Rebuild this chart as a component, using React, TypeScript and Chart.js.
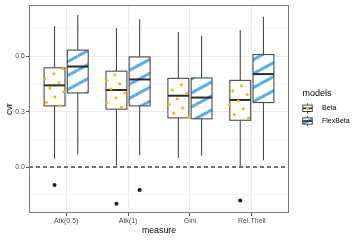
import React, { useEffect, useRef } from 'react';
import { Chart, registerables } from 'chart.js';

Chart.register(...registerables);

// ---------- data ----------
const categories = ['Atk(0.5)', 'Atk(1)', 'Gini', 'Rel.Theil'];
const models = ['Beta', 'FlexBeta'];

const betaLow = [0.045, 0.009, 0.049, 0.007];
const betaQ1 = [0.331, 0.313, 0.266, 0.253];
const betaMed = [0.442, 0.417, 0.386, 0.363];
const betaQ3 = [0.537, 0.519, 0.48, 0.469];
const betaHigh = [0.763, 0.753, 0.731, 0.742];

const flexLow = [0.068, 0.063, 0.061, 0.036];
const flexQ1 = [0.401, 0.331, 0.261, 0.349];
const flexMed = [0.544, 0.474, 0.376, 0.503];
const flexQ3 = [0.633, 0.596, 0.482, 0.609];
const flexHigh = [0.823, 0.8, 0.711, 0.814];

const betaOutlierCat = [0, 1, 3];
const betaOutlierVal = [-0.097, -0.199, -0.181];
const flexOutlierCat = [1];
const flexOutlierVal = [-0.124];

// jittered raw points (Beta only): category index, value, horizontal jitter
const jitterCat = [
  0, 0, 0, 0, 0, 0, 0, 0, 0,
  1, 1, 1, 1, 1, 1, 1, 1,
  2, 2, 2, 2, 2, 2, 2, 2,
  3, 3, 3, 3, 3, 3, 3, 3,
];
const jitterVal = [
  0.533, 0.505, 0.476, 0.456, 0.428, 0.408, 0.379, 0.35, 0.332,
  0.499, 0.47, 0.451, 0.422, 0.401, 0.373, 0.346, 0.324,
  0.446, 0.417, 0.399, 0.369, 0.339, 0.32, 0.291, 0.273,
  0.44, 0.412, 0.392, 0.359, 0.334, 0.315, 0.284, 0.264,
];
const jitterOff = [
  0.134, -0.011, -0.157, 0.069, -0.076, 0.15, 0.005, -0.134, 0.092,
  -0.023, -0.162, 0.053, -0.087, 0.139, -0.006, -0.152, 0.081,
  0.047, -0.099, 0.134, -0.018, -0.152, 0.069, -0.076, 0.16,
  0.021, -0.12, 0.113, -0.032, -0.173, 0.048, -0.097, 0.134,
];

const yMajorTicks = [0, 0.3, 0.6];
const yMinorTicks = [-0.15, 0.15, 0.45, 0.75];
const yRange = [-0.249, 0.876];
const xRange = [0.4, 4.6];
const hlineValue = 0;

// ---------- style ----------
const FONT = "'Liberation Sans', Arial, Helvetica, sans-serif";
const DODGE = 0.1875;
const HALF_W = 0.16875;
const STRIPE = '#58aeea';
const DOT = '#ffb000';
const LINE = '#4a4a4a';

function makePattern(): CanvasPattern | string {
  const W = 26, H = 14;
  const c = document.createElement('canvas');
  c.width = W; c.height = H;
  const g = c.getContext('2d');
  if (!g) return '#ffffff';
  g.fillStyle = '#ffffff';
  g.fillRect(0, 0, W, H);
  g.strokeStyle = STRIPE;
  g.lineWidth = 3;
  const shifts = [[0, 0], [-W, 0], [W, 0], [0, -H], [0, H]];
  for (const [dx, dy] of shifts) {
    g.beginPath();
    g.moveTo(0 + dx, H + dy);
    g.lineTo(W + dx, 0 + dy);
    g.stroke();
  }
  const p = g.createPattern(c, 'repeat');
  return p || '#ffffff';
}

export default function App() {
  const ref = useRef<HTMLCanvasElement | null>(null);

  useEffect(() => {
    document.body.style.margin = '0';
    const canvas = ref.current;
    if (!canvas) return;
    const pattern = makePattern();

    const series = [
      { low: betaLow, q1: betaQ1, med: betaMed, q3: betaQ3, high: betaHigh, off: -DODGE, fill: '#ffffff' as any },
      { low: flexLow, q1: flexQ1, med: flexMed, q3: flexQ3, high: flexHigh, off: DODGE, fill: pattern as any },
    ];

    const boxPlugin = {
      id: 'boxes',
      beforeDatasetsDraw(chart: any) {
        const { ctx, scales } = chart;
        const x = scales.x, y = scales.y;
        ctx.save();
        for (const s of series) {
          for (let i = 0; i < categories.length; i++) {
            const c = i + 1 + s.off;
            const px = x.getPixelForValue(c);
            const l = x.getPixelForValue(c - HALF_W);
            const r = x.getPixelForValue(c + HALF_W);
            const yl = y.getPixelForValue(s.low[i]);
            const y1 = y.getPixelForValue(s.q1[i]);
            const ym = y.getPixelForValue(s.med[i]);
            const y3 = y.getPixelForValue(s.q3[i]);
            const yh = y.getPixelForValue(s.high[i]);
            ctx.strokeStyle = LINE;
            ctx.lineWidth = 1.1;
            ctx.beginPath();
            ctx.moveTo(px, yl); ctx.lineTo(px, y1);
            ctx.moveTo(px, y3); ctx.lineTo(px, yh);
            ctx.stroke();
            ctx.fillStyle = s.fill;
            ctx.fillRect(l, y3, r - l, y1 - y3);
            ctx.strokeRect(l, y3, r - l, y1 - y3);
            ctx.strokeStyle = '#2b2b2b';
            ctx.lineWidth = 2;
            ctx.beginPath();
            ctx.moveTo(l, ym); ctx.lineTo(r, ym);
            ctx.stroke();
          }
        }
        ctx.restore();
      },
      afterDatasetsDraw(chart: any) {
        const { ctx, scales, chartArea } = chart;
        const yy = scales.y.getPixelForValue(hlineValue);
        ctx.save();
        ctx.strokeStyle = '#444444';
        ctx.lineWidth = 1.4;
        ctx.setLineDash([4, 3]);
        ctx.beginPath();
        ctx.moveTo(chartArea.left, yy);
        ctx.lineTo(chartArea.right, yy);
        ctx.stroke();
        ctx.restore();
      },
      afterDraw(chart: any) {
        const { ctx, chartArea } = chart;
        ctx.save();
        // panel border
        ctx.strokeStyle = '#7a7a7a';
        ctx.lineWidth = 1;
        ctx.strokeRect(
          Math.round(chartArea.left) + 0.5,
          Math.round(chartArea.top) + 0.5,
          Math.round(chartArea.right - chartArea.left) - 1,
          Math.round(chartArea.bottom - chartArea.top) - 1
        );
        // legend
        ctx.fillStyle = '#000000';
        ctx.font = `9px ${FONT}`;
        ctx.textBaseline = 'middle';
        ctx.textAlign = 'left';
        ctx.fillText('models', 302.5, 94);
        const keyY = [108.3, 121];
        const kx = 307.5;
        const hw = 4.75, hh = 3.2;
        for (let k = 0; k < models.length; k++) {
          const cy = keyY[k];
          ctx.strokeStyle = LINE;
          ctx.lineWidth = 1;
          ctx.beginPath();
          ctx.moveTo(kx, cy - 5); ctx.lineTo(kx, cy - hh);
          ctx.moveTo(kx, cy + hh); ctx.lineTo(kx, cy + 5);
          ctx.stroke();
          ctx.fillStyle = '#ffffff';
          ctx.fillRect(kx - hw, cy - hh, hw * 2, hh * 2);
          if (k === 1) {
            ctx.save();
            ctx.beginPath();
            ctx.rect(kx - hw, cy - hh, hw * 2, hh * 2);
            ctx.clip();
            ctx.strokeStyle = STRIPE;
            ctx.lineWidth = 2.6;
            ctx.beginPath();
            ctx.moveTo(kx - hw - 1, cy + hh + 0.5);
            ctx.lineTo(kx + hw + 1, cy - hh + 0.5);
            ctx.stroke();
            ctx.restore();
          }
          ctx.strokeStyle = LINE;
          ctx.lineWidth = 1;
          ctx.strokeRect(kx - hw, cy - hh, hw * 2, hh * 2);
          ctx.strokeStyle = '#2b2b2b';
          ctx.lineWidth = 1.6;
          ctx.beginPath();
          ctx.moveTo(kx - hw, cy); ctx.lineTo(kx + hw, cy);
          ctx.stroke();
          if (k === 0) {
            ctx.fillStyle = DOT;
            ctx.beginPath();
            ctx.arc(kx, cy, 1.5, 0, Math.PI * 2);
            ctx.fill();
          }
          ctx.fillStyle = '#000000';
          ctx.font = `7px ${FONT}`;
          ctx.fillText(models[k], 322, cy);
        }
        ctx.restore();
      },
    };

    const jitterData = jitterVal.map((v, i) => ({ x: jitterCat[i] + 1 - DODGE + jitterOff[i], y: v }));
    const betaOut = betaOutlierVal.map((v, i) => ({ x: betaOutlierCat[i] + 1 - DODGE, y: v }));
    const flexOut = flexOutlierVal.map((v, i) => ({ x: flexOutlierCat[i] + 1 + DODGE, y: v }));

    const isMajor = (v: number) => yMajorTicks.some((m) => Math.abs(m - v) < 1e-6);

    const chart = new Chart(canvas, {
      type: 'scatter',
      data: {
        datasets: [
          { label: 'Beta outliers', data: betaOut, pointRadius: 2, pointBackgroundColor: '#1a1a1a', pointBorderWidth: 0 },
          { label: 'FlexBeta outliers', data: flexOut, pointRadius: 2, pointBackgroundColor: '#1a1a1a', pointBorderWidth: 0 },
          { label: 'Beta points', data: jitterData, pointRadius: 1.5, pointBackgroundColor: DOT, pointBorderWidth: 0 },
        ],
      },
      options: {
        animation: false,
        responsive: false,
        devicePixelRatio: 1,
        layout: { padding: { top: 4, right: 71, left: 0, bottom: 0 } },
        plugins: { legend: { display: false }, tooltip: { enabled: false } },
        scales: {
          x: {
            type: 'linear',
            min: xRange[0],
            max: xRange[1],
            afterBuildTicks: (scale: any) => {
              scale.ticks = categories.map((_, i) => ({ value: i + 1 }));
            },
            afterFit: (scale: any) => { scale.height = 27; },
            ticks: {
              callback: (v: any) => categories[Math.round(v) - 1] ?? '',
              font: { family: FONT, size: 7 },
              color: '#4d4d4d',
              padding: 1,
              maxRotation: 0,
              autoSkip: false,
            },
            grid: { color: '#ebebeb', lineWidth: 1, tickLength: 3, tickColor: '#555555' },
            border: { display: false },
            title: {
              display: true,
              text: 'measure',
              font: { family: FONT, size: 8.8 },
              color: '#000000',
              padding: { top: 0, bottom: 3.7 },
            },
          },
          y: {
            type: 'linear',
            min: yRange[0],
            max: yRange[1],
            afterBuildTicks: (scale: any) => {
              scale.ticks = [...yMinorTicks, ...yMajorTicks].sort((a, b) => a - b).map((v) => ({ value: v }));
            },
            afterFit: (scale: any) => { scale.width = 29; },
            ticks: {
              callback: (v: any) => (isMajor(Number(v)) ? Number(v).toFixed(1) : ''),
              font: { family: FONT, size: 7 },
              color: '#4d4d4d',
              padding: 1,
              autoSkip: false,
            },
            grid: {
              color: (c: any) => (isMajor(c.tick?.value ?? 0) ? '#ebebeb' : '#f5f5f5'),
              tickColor: (c: any) => (isMajor(c.tick?.value ?? 0) ? '#555555' : 'rgba(0,0,0,0)'),
              lineWidth: 1,
              tickLength: 3,
            },
            border: { display: false },
            title: {
              display: true,
              text: 'cvr',
              font: { family: FONT, size: 8.8 },
              color: '#000000',
              padding: { top: 4.7, bottom: 0 },
            },
          },
        },
      },
      plugins: [boxPlugin],
    } as any);

    return () => chart.destroy();
  }, []);

  return (
    <div style={{ width: 360, height: 240 }}>
      <canvas ref={ref} width={360} height={240} style={{ display: 'block' }} />
    </div>
  );
}
